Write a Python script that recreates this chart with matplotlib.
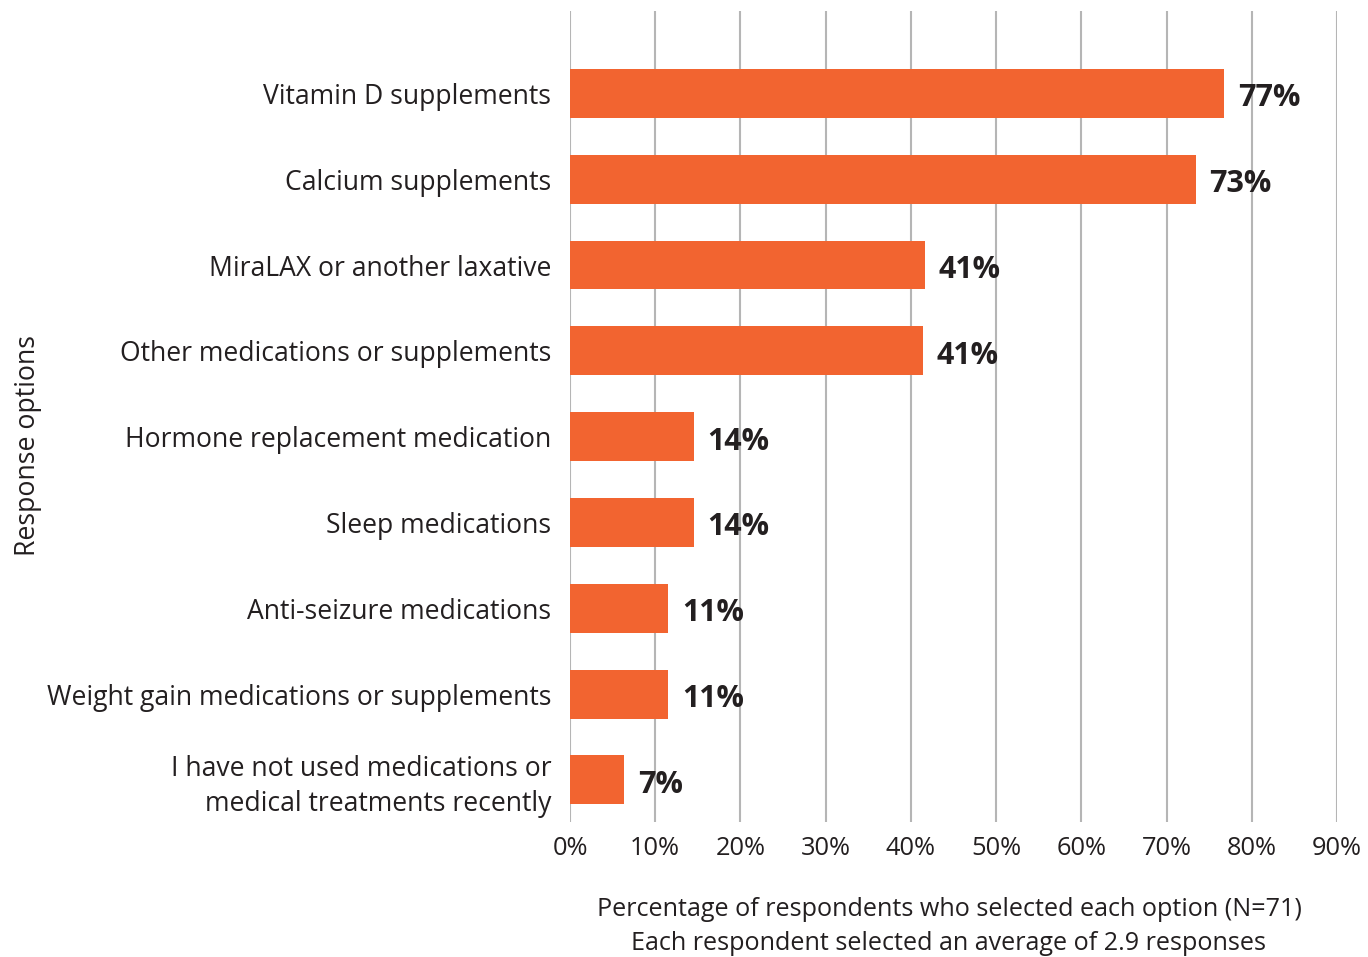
import matplotlib
matplotlib.use("Agg")
import matplotlib.pyplot as plt

plt.rcParams['font.family'] = ['Open Sans', 'DejaVu Sans']

categories = [
    "Vitamin D supplements",
    "Calcium supplements",
    "MiraLAX or another laxative",
    "Other medications or supplements",
    "Hormone replacement medication",
    "Sleep medications",
    "Anti-seizure medications",
    "Weight gain medications or supplements",
    "I have not used medications or\nmedical treatments recently",
]
values = [76.7, 73.4, 41.6, 41.4, 14.5, 14.5, 11.5, 11.5, 6.3]
value_labels = ["77%", "73%", "41%", "41%", "14%", "14%", "11%", "11%", "7%"]
xticks = [0, 10, 20, 30, 40, 50, 60, 70, 80, 90]
xtick_labels = ["0%", "10%", "20%", "30%", "40%", "50%", "60%", "70%", "80%", "90%"]

BAR = "#F26430"
TXT = "#231F20"
GRID = "#B5B5B5"

W, H = 1368, 957
fig = plt.figure(figsize=(W / 100, H / 100), dpi=100)
left, right, top, bottom = 570, 1337, 11, 822
ax = fig.add_axes([left / W, 1 - bottom / H, (right - left) / W, (bottom - top) / H])

pos = list(range(len(categories)))
ax.barh(pos, values, height=0.57, color=BAR, zorder=3)
ax.set_xlim(0, 90)
ax.set_ylim(8.49, -0.96)

ax.set_xticks(xticks)
ax.set_xticklabels(xtick_labels, fontsize=18.3, color=TXT)
ax.set_yticks(pos)
ax.set_yticklabels(categories, fontsize=19.1, color=TXT, linespacing=1.33)
ax.tick_params(axis='both', length=0)
ax.tick_params(axis='y', pad=13.5)
ax.tick_params(axis='x', pad=10)

for xt in xticks:
    ax.axvline(xt, color=GRID, lw=1.5, zorder=1)
for s in ax.spines.values():
    s.set_visible(False)

for p, v, lab in zip(pos, values, value_labels):
    ax.annotate(lab, (v, p), xytext=(14, -5), textcoords='offset pixels',
                ha='left', va='center', fontsize=22, fontweight='bold', color=TXT)

fig.text(28 / W, 1 - 445 / H, "Response options", rotation=90, ha='center', va='center',
         fontsize=19.2, color=TXT)
fig.text(949 / W, 1 - 909 / H, "Percentage of respondents who selected each option (N=71)",
         ha='center', va='center', fontsize=18.1, color=TXT)
fig.text(949 / W, 1 - 943 / H, "Each respondent selected an average of 2.9 responses",
         ha='center', va='center', fontsize=18.1, color=TXT)

fig.savefig("out.png", dpi=100, facecolor="white")
